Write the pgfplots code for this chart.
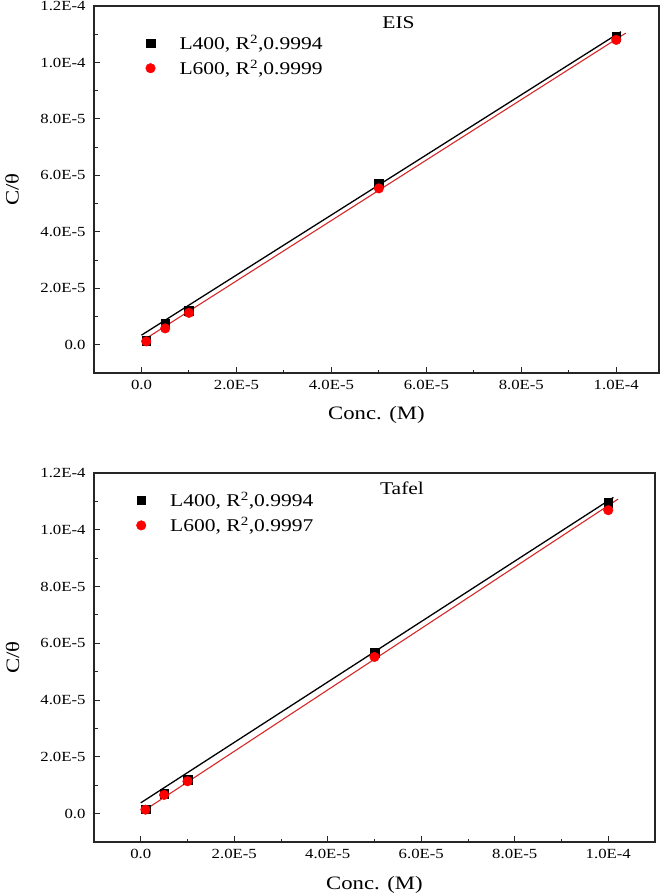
\documentclass[border=0pt]{standalone}
\usepackage{fontspec}
\setmainfont{Liberation Serif}[FakeStretch=1.2]
\usepackage{pgfplots}
\pgfplotsset{compat=1.18}
\definecolor{fitredcol}{RGB}{215,40,40}
\pgfplotsset{
 myaxis/.style={
  scale only axis, width=565bp, height=367bp,
  xmin=-1e-5, xmax=1.09e-4, ymin=-1e-5, ymax=1.2e-4,
  xtick={0,2e-5,4e-5,6e-5,8e-5,1e-4},
  xticklabels={0.0,2.0E-5,4.0E-5,6.0E-5,8.0E-5,1.0E-4},
  ytick={0,2e-5,4e-5,6e-5,8e-5,1e-4,1.2e-4},
  yticklabels={0.0,2.0E-5,4.0E-5,6.0E-5,8.0E-5,1.0E-4,1.2E-4},
  minor xtick={1e-5,3e-5,5e-5,7e-5,9e-5},
  minor ytick={1e-5,3e-5,5e-5,7e-5,9e-5,1.1e-4},
  scaled ticks=false,
  /pgf/number format/assume math mode=true,
  tick align=inside, tick pos=left,
  major tick length=6bp, minor tick length=3.5bp,
  axis line style={line width=1.1bp, black!85},
  every tick/.style={line width=1bp, black!85},
  tick label style={font=\fontsize{14}{14}\selectfont},
  xticklabel style={yshift=-4bp},
  yticklabel style={xshift=-5bp},
  xlabel={Conc. (M)}, ylabel={C/θ},
  every axis x label/.style={at={(axis description cs:0.5,-0.115)}, anchor=center, font=\fontsize{19}{19}\selectfont},
  every axis y label/.style={at={(axis description cs:-0.145,0.5)}, anchor=center, rotate=90, font=\fontsize{19}{19}\selectfont},
  legend style={draw=none, fill=none, font=\fontsize{18}{18}\selectfont, anchor=north west, row sep=5bp, inner sep=2bp},
  legend cell align=left,
  legend image code/.code={\path[draw=none,fill=none] (0bp,0bp) -- (35bp,0bp); \path[##1, draw=none] plot[only marks] coordinates {(8bp,0bp)};},
 },
 fitblack/.style={black, line width=1.3bp, no marks, forget plot},
 fitredline/.style={fitredcol, line width=1.1bp, no marks, forget plot},
 sq/.style={only marks, mark=square*, mark size=4.3bp, mark options={fill=black, draw=black}},
 ci/.style={only marks, mark=*, mark size=4.8bp, mark options={fill=red, draw=red}},
}
\begin{document}
\begin{tikzpicture}
\useasboundingbox (0,0) rectangle (664bp,-895bp);
% ---------------- EIS ----------------
\begin{axis}[myaxis, at={(94bp,-6bp)}, anchor=north west,
  legend style={at={(rel axis cs:0.082,0.932)}}]
\addplot[fitblack] coordinates {(0,3.4e-6) (1.01e-4,1.109e-4)};
\addplot[fitredline] coordinates {(0,1.2e-6) (1.02e-4,1.104e-4)};
\addplot[sq] coordinates {(1e-6,1.4e-6) (5e-6,7.7e-6) (1e-5,1.2e-5) (5e-5,5.72e-5) (1e-4,1.092e-4)};
\addlegendentry{L400, R\textsuperscript{2},0.9994}
\addplot[ci] coordinates {(1e-6,1.2e-6) (5e-6,5.8e-6) (1e-5,1.13e-5) (5e-5,5.54e-5) (1e-4,1.08e-4)};
\addlegendentry{L600, R\textsuperscript{2},0.9999}
\node[font=\fontsize{18}{18}\selectfont] at (rel axis cs:0.539,0.956) {EIS};
\end{axis}
% ---------------- Tafel ----------------
\begin{axis}[myaxis, at={(94bp,-473bp)}, anchor=north west, width=561bp, height=369bp,
  xmax=1.1e-4,
  legend style={at={(rel axis cs:0.066,0.959)}}]
\addplot[fitblack] coordinates {(0,3.8e-6) (1.011e-4,1.114e-4)};
\addplot[fitredline] coordinates {(0.7e-6,1.06e-6) (1.021e-4,1.108e-4)};
\addplot[sq] coordinates {(1e-6,1.5e-6) (5e-6,7.0e-6) (1e-5,1.2e-5) (5e-5,5.68e-5) (1e-4,1.096e-4)};
\addlegendentry{L400, R\textsuperscript{2},0.9994}
\addplot[ci] coordinates {(1e-6,1.4e-6) (5e-6,6.6e-6) (1e-5,1.14e-5) (5e-5,5.52e-5) (1e-4,1.069e-4)};
\addlegendentry{L600, R\textsuperscript{2},0.9997}
\node[font=\fontsize{18}{18}\selectfont] at (rel axis cs:0.549,0.959) {Tafel};
\end{axis}
\end{tikzpicture}
\end{document}
